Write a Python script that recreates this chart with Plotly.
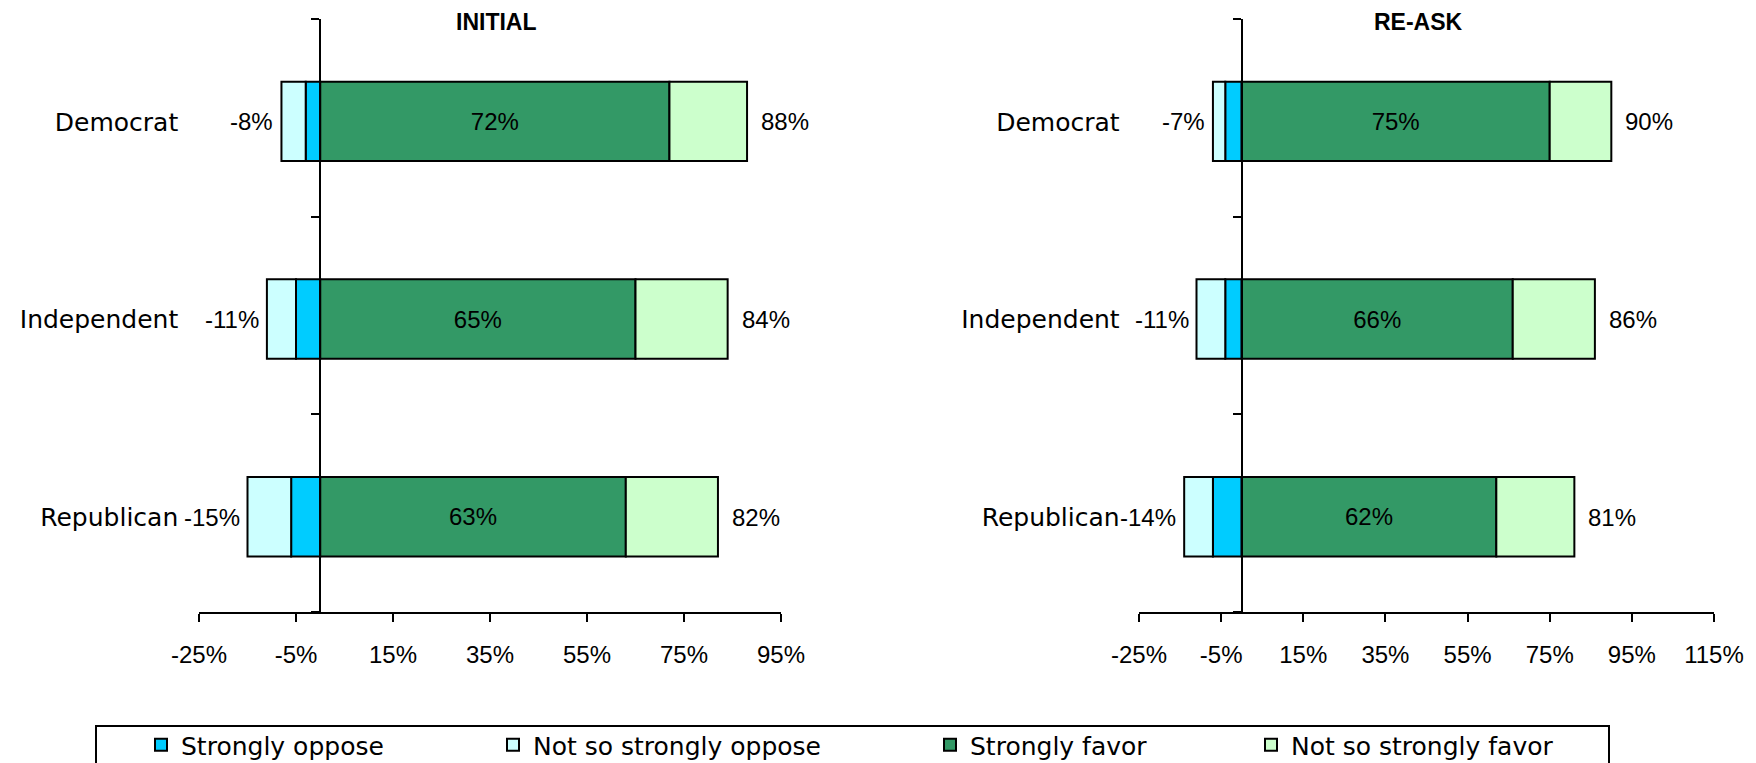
import plotly.graph_objects as go

# Party groups, top to bottom
parties = ["Democrat", "Independent", "Republican"]

# INITIAL question (percent)
initial_strongly_oppose = [3, 5, 6]
initial_not_so_oppose = [5, 6, 9]
initial_strongly_favor = [72, 65, 63]
initial_not_so_favor = [16, 19, 19]

# RE-ASK question (percent)
reask_strongly_oppose = [4, 4, 7]
reask_not_so_oppose = [3, 7, 7]
reask_strongly_favor = [75, 66, 62]
reask_not_so_favor = [15, 20, 19]

# Axis ticks
initial_ticks = [-25, -5, 15, 35, 55, 75, 95]
reask_ticks = [-25, -5, 15, 35, 55, 75, 95, 115]

series_names = ["Strongly oppose", "Not so strongly oppose", "Strongly favor", "Not so strongly favor"]
series_colors = ["#00CCFF", "#CCFFFF", "#339966", "#CCFFCC"]

W, H = 1756, 763
NUM_FONT = "Liberation Sans, Arial, sans-serif"
WORD_FONT = "DejaVu Sans, Verdana, sans-serif"

left_dom = [199 / W, 781 / W]
right_dom = [1139 / W, 1714 / W]
y_dom = [1 - 612 / H, 1 - 19 / H]
left_range = [-25, 95]
right_range = [-25, 115]

BAR_W = 0.402      # bar thickness as a share of the category band
BAR_DROP = 0.018   # bars sit slightly below the band centre
LABEL_DROP = 4     # matching pixel drop for the labels

fig = go.Figure()

panels = [
    ("x", "y", initial_strongly_oppose, initial_not_so_oppose, initial_strongly_favor, initial_not_so_favor, True),
    ("x2", "y2", reask_strongly_oppose, reask_not_so_oppose, reask_strongly_favor, reask_not_so_favor, False),
]

legend_ids = ["legend", "legend2", "legend3", "legend4"]

for xa, ya, so, nso, sf, nsf, show in panels:
    vals = [[-v for v in so], [-v for v in nso], sf, nsf]
    for i, (name, color, v) in enumerate(zip(series_names, series_colors, vals)):
        kw = {}
        if i == 2:
            kw = dict(
                text=[f"{x}%" for x in v],
                textposition="inside",
                insidetextanchor="middle",
                textfont=dict(family=NUM_FONT, size=24, color="black"),
                texttemplate="%{text}",
            )
        fig.add_trace(go.Bar(
            x=v, y=parties, orientation="h", name=name,
            width=BAR_W, offset=-BAR_W / 2 - BAR_DROP,
            marker=dict(color=color, line=dict(color="black", width=2)),
            xaxis=xa, yaxis=ya, showlegend=show, legend=legend_ids[i],
            hoverinfo="skip", **kw,
        ))
    # net labels at both ends of each bar
    neg_tot = [a + b for a, b in zip(so, nso)]
    pos_tot = [a + b for a, b in zip(sf, nsf)]
    for p, n, t in zip(parties, neg_tot, pos_tot):
        fig.add_annotation(x=-n, y=p, xref=xa, yref=ya, text=f"-{n}%", showarrow=False,
                           xanchor="right", xshift=-6, yshift=-LABEL_DROP,
                           font=dict(family=NUM_FONT, size=24, color="black"))
        fig.add_annotation(x=t, y=p, xref=xa, yref=ya, text=f"{t}%", showarrow=False,
                           xanchor="left", xshift=12, yshift=-LABEL_DROP,
                           font=dict(family=NUM_FONT, size=24, color="black"))


def zero_pos(dom, rng):
    return dom[0] + (0 - rng[0]) / (rng[1] - rng[0]) * (dom[1] - dom[0])


def xaxis_cfg(dom, rng, ticks, anchor):
    return dict(
        domain=dom, range=rng, anchor=anchor, automargin=False,
        tickvals=ticks, ticktext=[f"{t}%" for t in ticks],
        showline=True, linecolor="black", linewidth=2,
        ticks="outside", ticklen=8, tickwidth=2, tickcolor="black",
        showgrid=False, zeroline=False,
        tickfont=dict(family=NUM_FONT, size=24, color="black"),
        ticklabelstandoff=12, fixedrange=True,
    )


def yaxis_cfg(pos, standoff):
    return dict(
        domain=y_dom, anchor="free", position=pos, automargin=False,
        categoryorder="array", categoryarray=parties[::-1],
        showline=True, linecolor="black", linewidth=2,
        ticks="outside", ticklen=8, tickwidth=2, tickcolor="black",
        tickson="boundaries", showgrid=False, zeroline=False,
        tickfont=dict(family=WORD_FONT, size=25, color="black"),
        ticklabelstandoff=standoff, ticklabelshift=LABEL_DROP, fixedrange=True,
    )


legend_lefts = [157, 509, 946, 1267]
legend_cfg = {}
for lid, lx in zip(legend_ids, legend_lefts):
    legend_cfg[lid] = dict(
        x=(lx - 16) / W, y=1 - 745 / H, xanchor="left", yanchor="middle",
        orientation="h", borderwidth=0, bgcolor="rgba(0,0,0,0)",
        font=dict(family=WORD_FONT, size=25, color="black"),
    )

fig.update_layout(
    width=W, height=H,
    margin=dict(l=0, r=0, t=0, b=0, autoexpand=False),
    paper_bgcolor="white", plot_bgcolor="white",
    barmode="relative",
    xaxis=xaxis_cfg(left_dom, left_range, initial_ticks, "y"),
    xaxis2=xaxis_cfg(right_dom, right_range, reask_ticks, "y2"),
    yaxis=yaxis_cfg(zero_pos(left_dom, left_range), 136),
    yaxis2=yaxis_cfg(zero_pos(right_dom, right_range), 116),
    **legend_cfg,
)

fig.add_annotation(x=496 / W, y=1 - 22 / H, xref="paper", yref="paper", text="<b>INITIAL</b>",
                   showarrow=False, xanchor="center", yanchor="middle",
                   font=dict(family=NUM_FONT, size=23, color="black"))
fig.add_annotation(x=1418 / W, y=1 - 22 / H, xref="paper", yref="paper", text="<b>RE-ASK</b>",
                   showarrow=False, xanchor="center", yanchor="middle",
                   font=dict(family=NUM_FONT, size=23, color="black"))

# frame around the legend row
fig.add_shape(type="rect", xref="paper", yref="paper",
              x0=96 / W, x1=1609 / W, y0=-0.2, y1=1 - 726 / H,
              line=dict(color="black", width=2), fillcolor="rgba(0,0,0,0)", layer="below")

fig.write_html("out.html")
